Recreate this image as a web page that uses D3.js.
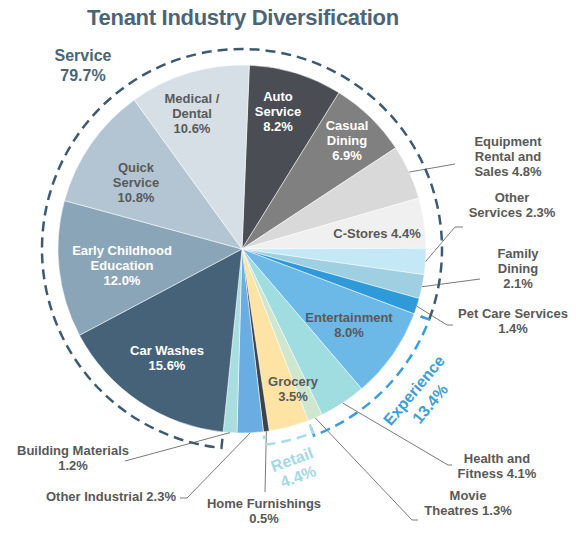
<!DOCTYPE html>
<html>
<head>
<meta charset="utf-8">
<script src="https://cdn.jsdelivr.net/npm/d3@7"></script>
<style>
  html, body { margin: 0; padding: 0; background: #fff; }
  svg text { font-family: "Liberation Sans", Arial, sans-serif; font-weight: bold; }
</style>
</head>
<body>
<div id="chart"></div>
<script>
// tenant industries, clockwise from the top
const categories = [
    "Auto Service", "Casual Dining", "Equipment Rental and Sales", "C-Stores",
    "Other Services", "Family Dining", "Pet Care Services", "Entertainment",
    "Health and Fitness", "Movie Theatres", "Grocery", "Home Furnishings",
    "Other Industrial", "Building Materials", "Car Washes",
    "Early Childhood Education", "Quick Service", "Medical / Dental"
];
const shares = [8.2, 6.9, 4.8, 4.4, 2.3, 2.1, 1.4, 8.0, 4.1, 1.3, 3.5, 0.5, 2.3, 1.2, 15.6, 12.0, 10.8, 10.6];
const labelLines = [
    ["Auto", "Service", "8.2%"], ["Casual", "Dining", "6.9%"], ["Equipment", "Rental and", "Sales 4.8%"],
    ["C-Stores 4.4%"], ["Other", "Services 2.3%"], ["Family", "Dining", "2.1%"],
    ["Pet Care Services", "1.4%"], ["Entertainment", "8.0%"], ["Health and", "Fitness 4.1%"],
    ["Movie", "Theatres 1.3%"], ["Grocery", "3.5%"], ["Home Furnishings", "0.5%"],
    ["Other Industrial 2.3%"], ["Building Materials", "1.2%"], ["Car Washes", "15.6%"],
    ["Early Childhood", "Education", "12.0%"], ["Quick", "Service", "10.8%"], ["Medical /", "Dental", "10.6%"]
];
// groups shown with dashed brackets: first and last category index
const groupNames = ["Service", "Experience", "Retail"];
const groupValues = ["79.7%", "13.4%", "4.4%"];
const groupFrom = ["Car Washes", "Entertainment", "Grocery"];
const groupTo = ["Pet Care Services", "Movie Theatres", "Home Furnishings"];

const colors = ["#4a4d53", "#808080", "#d9d9d9", "#f0f0f0", "#c5e8f6", "#9fd0e2", "#2f9ad9",
    "#6cb8e6", "#9fdde0", "#cfe6cf", "#fde4a5", "#404346", "#69ade2", "#a9dee1",
    "#466279", "#8ba5b8", "#b3c5d3", "#d6dfe6"];

const width = 576, height = 538;
const cx = 242, cy = 249, radius = 184;
const startOffset = 0.04;

// where each label sits, and the leader line bend points (outside labels only)
const labelLayout = {
    "Auto Service":      { x: 278, y: 96, fill: "#fff" },
    "Casual Dining":     { x: 347, y: 125, fill: "#fff" },
    "Equipment Rental and Sales": { x: 508, y: 141, leader: [[455, 164]] },
    "C-Stores":          { x: 377, y: 233 },
    "Other Services":    { x: 512, y: 197, leader: [[455, 227], [463, 227]] },
    "Family Dining":     { x: 518, y: 253, leader: [[480, 279]] },
    "Pet Care Services": { x: 513, y: 313, leader: [[447, 325], [453, 325]] },
    "Entertainment":     { x: 349, y: 317 },
    "Health and Fitness": { x: 497, y: 458, leader: [[448, 465], [452, 465]] },
    "Movie Theatres":    { x: 468, y: 495, leader: [[412, 520], [418, 520]] },
    "Grocery":           { x: 293, y: 381 },
    "Home Furnishings":  { x: 264, y: 503, leader: [[265, 492]] },
    "Other Industrial":  { x: 111, y: 496, leader: [[187, 498], [180, 498]] },
    "Building Materials": { x: 73, y: 450, leader: [[125, 461]] },
    "Car Washes":        { x: 167, y: 350, fill: "#fff" },
    "Early Childhood Education": { x: 122, y: 250, fill: "#fff" },
    "Quick Service":     { x: 136, y: 167 },
    "Medical / Dental":  { x: 192, y: 98 }
};

const svg = d3.select('#chart').append('svg')
    .attr('width', width)
    .attr('height', height);

svg.append('text')
    .attr('x', 243)
    .attr('y', 25)
    .attr('text-anchor', 'middle')
    .attr('font-size', 22)
    .attr('letter-spacing', -0.3)
    .attr('fill', '#4b6477')
    .text('Tenant Industry Diversification');

const pie = d3.pie()
    .sort(null)
    .value(d => d.share)
    .startAngle(startOffset)
    .endAngle(startOffset + 2 * Math.PI);

const data = categories.map((c, i) => ({ name: c, share: shares[i], lines: labelLines[i], color: colors[i] }));
const arcs = pie(data);

const arc = d3.arc().innerRadius(0).outerRadius(radius);
const edge = d3.arc().innerRadius(radius).outerRadius(radius);

const g = svg.append('g').attr('transform', `translate(${cx},${cy})`);

g.selectAll('path.slice')
    .data(arcs)
    .join('path')
    .attr('class', 'slice')
    .attr('d', arc)
    .attr('fill', d => d.data.color)
    .attr('stroke', '#fff')
    .attr('stroke-width', 0.5);

// leader lines from the rim to the outside labels
const line = d3.line();
svg.append('g').selectAll('path')
    .data(arcs.filter(d => labelLayout[d.data.name].leader))
    .join('path')
    .attr('d', d => {
        const [ex, ey] = edge.centroid(d);
        return line([[cx + ex, cy + ey], ...labelLayout[d.data.name].leader]);
    })
    .attr('fill', 'none')
    .attr('stroke', '#7a7a7a')
    .attr('stroke-width', 1);

// slice labels
const labels = svg.append('g').selectAll('text')
    .data(arcs)
    .join('text')
    .attr('text-anchor', 'middle')
    .attr('font-size', 13)
    .attr('fill', d => labelLayout[d.data.name].fill || '#595959');

labels.selectAll('tspan')
    .data(d => d.data.lines.map((t, k) => ({ t, k, lay: labelLayout[d.data.name] })))
    .join('tspan')
    .attr('x', d => d.lay.x)
    .attr('y', d => d.lay.y + d.k * 15)
    .attr('dy', '0.35em')
    .text(d => d.t);

// dashed group brackets
const byName = {};
arcs.forEach(d => byName[d.data.name] = d);
const bracketStyle = [
    { r: 200, color: '#3d5a70' },
    { r: 200, color: '#3a9fd8' },
    { r: 197, color: '#a8dce8' }
];

function bracketPath(a0, a1, r) {
    const p = d3.path();
    const tick = 9;
    const pt = (a, rr) => [cx + rr * Math.sin(a), cy - rr * Math.cos(a)];
    p.moveTo(...pt(a0, r - tick));
    p.lineTo(...pt(a0, r));
    p.arc(cx, cy, r, a0 - Math.PI / 2, a1 - Math.PI / 2, false);
    p.lineTo(...pt(a1, r - tick));
    return p.toString();
}

groupNames.forEach((name, i) => {
    let a0 = byName[groupFrom[i]].startAngle;
    let a1 = byName[groupTo[i]].endAngle;
    if (a1 < a0) a1 += 2 * Math.PI;
    svg.append('path')
        .attr('d', bracketPath(a0, a1, bracketStyle[i].r))
        .attr('fill', 'none')
        .attr('stroke', bracketStyle[i].color)
        .attr('stroke-width', 2.5)
        .attr('stroke-dasharray', '10,6');
});

// group captions
const groupCaptions = [
    { x: 83, y: 65, rot: 0, color: '#4b6477', gap: 20 },
    { x: 422, y: 397, rot: -50, color: '#3a9fd8', gap: 21 },
    { x: 295, y: 468, rot: -20, color: '#a3d9e6', gap: 18 }
];
groupNames.forEach((name, i) => {
    const c = groupCaptions[i];
    const t = svg.append('text')
        .attr('transform', `translate(${c.x},${c.y}) rotate(${c.rot})`)
        .attr('text-anchor', 'middle')
        .attr('font-size', 16)
        .attr('fill', c.color);
    t.append('tspan').attr('x', 0).attr('y', -c.gap / 2).attr('dy', '0.35em').text(name);
    t.append('tspan').attr('x', 0).attr('y', c.gap / 2).attr('dy', '0.35em').text(groupValues[i]);
});
</script>
</body>
</html>
